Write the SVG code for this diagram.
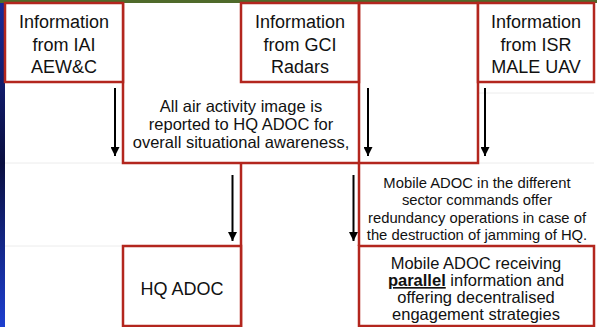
<svg xmlns="http://www.w3.org/2000/svg" width="597" height="327" viewBox="0 0 597 327">
  <defs>
    <marker id="ah" viewBox="0 0 10 10" refX="10" refY="5" markerWidth="4.5" markerHeight="4.5" markerUnits="strokeWidth" orient="auto">
      <path d="M0,0 L10,5 L0,10 z" fill="#000"/>
    </marker>
    <linearGradient id="bl" x1="0" y1="0" x2="0" y2="1">
      <stop offset="0" stop-color="#1a2a9a"/>
      <stop offset="0.5" stop-color="#0a0f40"/>
      <stop offset="1" stop-color="#1d3fd0"/>
    </linearGradient>
  </defs>
  <style>
    .box{fill:#fff;stroke:#b3261e;stroke-width:2.5}
    .ln{fill:none;stroke:#b3261e;stroke-width:2.5}
    .grid{stroke:#ececec;stroke-width:1;fill:none}
    .t{font-family:"Liberation Sans",Arial,sans-serif;fill:#111;text-anchor:middle}
    .big{font-size:18px}
    .mid{font-size:16.5px}
    .sm{font-size:14.8px}
    .arr{stroke:#000;stroke-width:2;fill:none;marker-end:url(#ah)}
  </style>
  <rect x="0" y="0" width="597" height="327" fill="#fff"/>
  <rect x="0" y="0" width="5" height="327" fill="url(#bl)"/>
  <rect x="0" y="0" width="597" height="3" fill="#4f6a2a"/>
  <g id="grid">
    <path class="grid" d="M5,163 H123 M5,246 H123 M478,163 H594 M478,93 H594"/>
  </g>

  <g id="allair">
    <path class="ln" d="M123,3 V163 H359"/>
    <text class="t mid" x="241" y="112">All air activity image is</text>
    <text class="t mid" x="241" y="130">reported to HQ ADOC for</text>
    <text class="t mid" x="241" y="148">overall situational awareness,</text>
  </g>
  <g id="iai">
    <rect class="box" x="5" y="3" width="118" height="79"/>
    <text class="t big" x="64" y="28">Information</text>
    <text class="t big" x="64" y="50.5">from IAI</text>
    <text class="t big" x="64" y="73">AEW&amp;C</text>
  </g>
  <g id="gci">
    <rect class="box" x="241" y="3" width="118" height="79"/>
    <text class="t big" x="300" y="28">Information</text>
    <text class="t big" x="300" y="50.5">from GCI</text>
    <text class="t big" x="300" y="73">Radars</text>
  </g>
  <g id="relay">
    <rect class="ln" x="359" y="3" width="119" height="160"/>
  </g>
  <g id="isr">
    <rect class="box" x="478" y="3" width="116" height="79"/>
    <text class="t big" x="536" y="28">Information</text>
    <text class="t big" x="536" y="50.5">from ISR</text>
    <text class="t big" x="536" y="73">MALE UAV</text>
  </g>
  <g id="mobile-sector">
    <path class="ln" d="M241,163 V327 M359,163 V246"/>
    <text class="t sm" x="477" y="187.5">Mobile ADOC in the different</text>
    <text class="t sm" x="477" y="205">sector commands offer</text>
    <text class="t sm" x="477" y="222.5">redundancy operations in case of</text>
    <text class="t sm" x="477" y="240">the destruction of jamming of HQ.</text>
  </g>
  <g id="hqadoc">
    <rect class="box" x="123" y="246" width="118" height="80"/>
    <text class="t big" x="182" y="295">HQ ADOC</text>
  </g>
  <g id="mobileadoc">
    <rect class="box" x="359" y="246" width="235" height="80"/>
    <text class="t mid" x="476" y="269">Mobile ADOC receiving</text>
    <text class="t mid" x="476" y="286"><tspan font-weight="bold" text-decoration="underline">parallel</tspan> information and</text>
    <text class="t mid" x="476" y="303">offering decentralised</text>
    <text class="t mid" x="476" y="320">engagement strategies</text>
  </g>

  <g id="connectors">
    <line class="arr" x1="115" y1="88" x2="115" y2="156"/>
    <line class="arr" x1="368" y1="88" x2="368" y2="156"/>
    <line class="arr" x1="485" y1="88" x2="485" y2="156"/>
    <line class="arr" x1="232.5" y1="175" x2="232.5" y2="241"/>
    <line class="arr" x1="353.5" y1="175" x2="353.5" y2="241"/>
  </g>
</svg>
